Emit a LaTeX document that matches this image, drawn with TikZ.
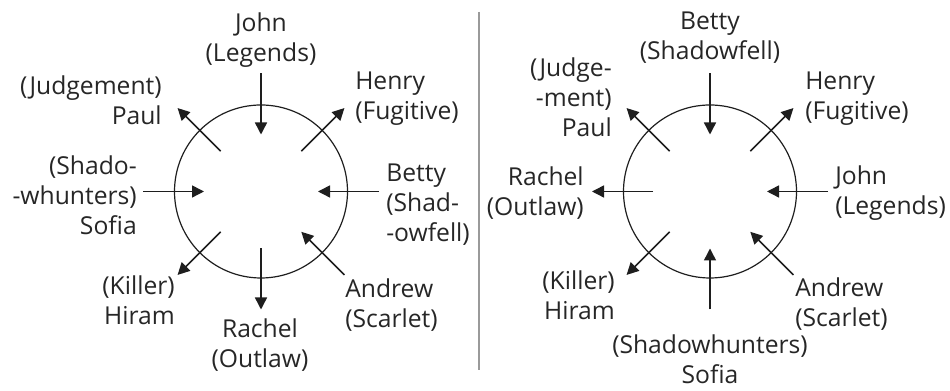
\documentclass[tikz,border=0pt]{standalone}
\usepackage{fontspec}
\setmainfont{Open Sans}
\usetikzlibrary{arrows.meta}
\definecolor{txtgray}{HTML}{262626}
\definecolor{arrgray}{HTML}{1E1E1E}
\definecolor{divgray}{HTML}{9A9A9A}

\begin{document}
\begin{tikzpicture}[x=0.75pt,y=0.75pt,
    lbl/.style={font=\fontsize{18.5}{22.5}\selectfont, text=txtgray, inner sep=0pt},
    ring/.style={draw=arrgray, line width=0.9pt, circle, minimum size=129.75pt, inner sep=0pt},
    arr/.style={draw=arrgray, line width=1.1pt, -{Triangle[length=9pt,width=9pt]}},
    into/.style={arr, shorten >=42.75pt},
    outof/.style={arr, shorten <=42.75pt}]
    \useasboundingbox (0,0) rectangle (950,391);
    \draw[divgray, line width=1.5pt] (479,379) -- (479,21);

    % left arrangement
    \node[ring] (cL) at (261,199.5) {};
    \coordinate (LJohn) at ([shift={(90:118)}]cL.center);
    \coordinate (LHenry) at ([shift={(45:118)}]cL.center);
    \coordinate (LBetty) at ([shift={(0:118)}]cL.center);
    \coordinate (LAndrew) at ([shift={(-45:118)}]cL.center);
    \coordinate (LRachel) at ([shift={(-90:118)}]cL.center);
    \coordinate (LHiram) at ([shift={(-135:118)}]cL.center);
    \coordinate (LSofia) at ([shift={(180:118)}]cL.center);
    \coordinate (LPaul) at ([shift={(135:118)}]cL.center);
    \draw[into] (LJohn) -- (cL.center);
    \draw[outof] (cL.center) -- (LHenry);
    \draw[into] (LBetty) -- (cL.center);
    \draw[into] (LAndrew) -- (cL.center);
    \draw[outof] (cL.center) -- (LRachel);
    \draw[outof] (cL.center) -- (LHiram);
    \draw[into] (LSofia) -- (cL.center);
    \draw[outof] (cL.center) -- (LPaul);
    \node[lbl, align=center] (tLJohn) at (261,351) {John\\(Legends)};
    \node[lbl, align=left, anchor=west] (tLHenry) at (355,292) {Henry\\(Fugitive)};
    \node[lbl, align=left, anchor=west] (tLBetty) at (386,186) {Betty\\(Shad-\\-owfell)};
    \node[lbl, align=left, anchor=west] (tLAndrew) at (345,86) {Andrew\\(Scarlet)};
    \node[lbl, align=center] (tLRachel) at (260,46) {Rachel\\(Outlaw)};
    \node[lbl, align=right, anchor=east] (tLHiram) at (175,91) {(Killer)\\Hiram};
    \node[lbl, align=right, anchor=east] (tLSofia) at (137,196) {(Shado-\\-whunters)\\Sofia};
    \node[lbl, align=right, anchor=east] (tLPaul) at (162,291) {(Judgement)\\Paul};

    % right arrangement
    \node[ring] (cR) at (710,199.5) {};
    \coordinate (RBetty) at ([shift={(90:118)}]cR.center);
    \coordinate (RHenry) at ([shift={(45:118)}]cR.center);
    \coordinate (RJohn) at ([shift={(0:118)}]cR.center);
    \coordinate (RAndrew) at ([shift={(-45:118)}]cR.center);
    \coordinate (RSofia) at ([shift={(-90:118)}]cR.center);
    \coordinate (RHiram) at ([shift={(-135:118)}]cR.center);
    \coordinate (RRachel) at ([shift={(180:118)}]cR.center);
    \coordinate (RPaul) at ([shift={(135:118)}]cR.center);
    \draw[into] (RBetty) -- (cR.center);
    \draw[outof] (cR.center) -- (RHenry);
    \draw[into] (RJohn) -- (cR.center);
    \draw[into] (RAndrew) -- (cR.center);
    \draw[into] (RSofia) -- (cR.center);
    \draw[outof] (cR.center) -- (RHiram);
    \draw[outof] (cR.center) -- (RRachel);
    \draw[outof] (cR.center) -- (RPaul);
    \node[lbl, align=center] (tRBetty) at (710,353) {Betty\\(Shadowfell)};
    \node[lbl, align=left, anchor=west] (tRHenry) at (805,292) {Henry\\(Fugitive)};
    \node[lbl, align=left, anchor=west] (tRJohn) at (835,198) {John\\(Legends)};
    \node[lbl, align=left, anchor=west] (tRAndrew) at (795,87) {Andrew\\(Scarlet)};
    \node[lbl, align=center, anchor=north] (tRSofia) at (710,57) {(Shadowhunters)\\Sofia};
    \node[lbl, align=right, anchor=east] (tRHiram) at (615,96) {(Killer)\\Hiram};
    \node[lbl, align=right, anchor=east] (tRRachel) at (584,198) {Rachel\\(Outlaw)};
    \node[lbl, align=right, anchor=east] (tRPaul) at (612,294) {(Judge-\\-ment)\\Paul};
\end{tikzpicture}
\end{document}
